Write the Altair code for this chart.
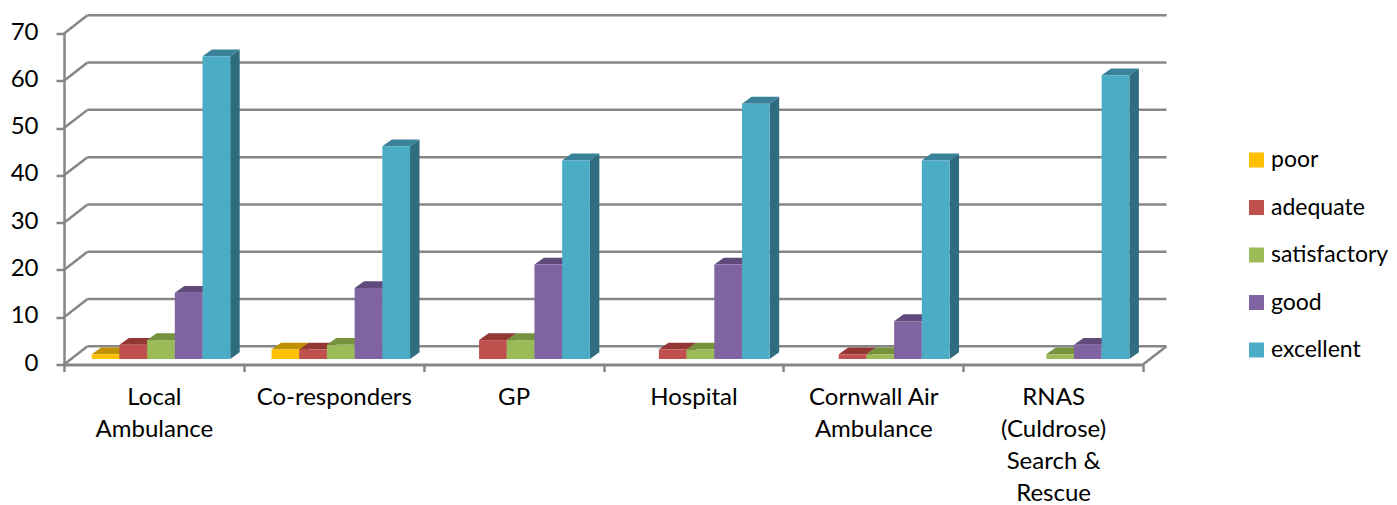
import altair as alt
import pandas as pd

categories = ["Local|Ambulance", "Co-responders", "GP", "Hospital", "Cornwall Air|Ambulance", "RNAS|(Culdrose)|Search &|Rescue"]
series = ["poor", "adequate", "satisfactory", "good", "excellent"]
poor = [1, 2, 0, 0, 0, 0]
adequate = [3, 2, 4, 2, 1, 0]
satisfactory = [4, 3, 4, 2, 1, 1]
good = [14, 15, 20, 20, 8, 3]
excellent = [64, 45, 42, 54, 42, 60]
values = [poor, adequate, satisfactory, good, excellent]
front_colors = ["#FFC000", "#C0504D", "#9BBB59", "#8064A2", "#4BACC6"]
top_colors = ["#BF9000", "#953735", "#76923C", "#604A7B", "#3A8299"]
side_colors = ["#A67D00", "#7D3432", "#657A3A", "#534169", "#2F6C7F"]
ticks = [0, 10, 20, 30, 40, 50, 60, 70]

FONT = "Lato"
GREY = "#868686"
W, H = 1079, 331
U = 4.7286  # px per value unit
CW = W / 6  # px per category

# projection constants in data units
wall_dx, wall_dy = 23.5 / CW, 18.2 / U
bar_lift = 5.5 / U
bar_start, bar_w = 27.7 / CW, 27.7 / CW
depth_dx, depth_dy = 9.5 / CW, 6.8 / U

y_axis_def = alt.Axis(
    orient="left", values=ticks, title=None, grid=False, domainColor=GREY, domainWidth=2.5,
    tickColor=GREY, tickWidth=2.5, tickSize=8, labelPadding=18,
    labelFont=FONT, labelFontSize=24, labelColor="#000000", labelOffset=-1.5,
)
xs = alt.Scale(domain=[0, 6], range=[0, W], nice=False, zero=False)
ys = alt.Scale(domain=[0, 70], range=[H, 0], nice=False, zero=False)
X = alt.X("x:Q", scale=xs, axis=None)
X2 = alt.X2("x2:Q")
Y = alt.Y("y:Q", scale=ys, axis=y_axis_def)
Y2 = alt.Y2("y2:Q")
color_enc = alt.Color(
    "series:N",
    scale=alt.Scale(domain=series, range=front_colors),
    legend=alt.Legend(
        title=None, orient="none", legendX=1181, legendY=115,
        symbolType="square", symbolSize=225, symbolStrokeWidth=0, symbolOpacity=1,
        labelFont=FONT, labelFontSize=23, labelColor="#000000",
        rowPadding=23.5, labelOffset=3, labelLimit=200,
    ),
)

x_axis = alt.Chart(pd.DataFrame({"cat": categories})).mark_point(opacity=0).encode(
    x=alt.X("cat:N", sort=categories, scale=alt.Scale(domain=categories, range=[0, W], paddingInner=0, paddingOuter=0),
            axis=alt.Axis(
                orient="bottom", title=None, grid=False, tickBand="extent", domainColor=GREY, domainWidth=3,
                tickColor=GREY, tickWidth=2.5, tickSize=7, labelAngle=0, labelAlign="center", labelBaseline="top",
                labelPadding=14, labelFont=FONT, labelFontSize=24, labelColor="#000000", labelLimit=300,
                labelLineHeight=32, labelExpr="split(datum.label, '|')",
            )),
)

# back wall gridlines
grid_df = pd.DataFrame({
    "x": [wall_dx] * len(ticks), "x2": [6 + wall_dx] * len(ticks),
    "y": [t + wall_dy for t in ticks],
})
grid = alt.Chart(grid_df).mark_rule(color=GREY, strokeWidth=2.5).encode(x=X, x2=X2, y=Y)

# side wall connectors and floor edge
conn = []
for t in ticks:
    conn.append({"k": f"t{t}", "x": 0, "y": t})
    conn.append({"k": f"t{t}", "x": wall_dx, "y": t + wall_dy})
conn.append({"k": "floor", "x": 6, "y": 0})
conn.append({"k": "floor", "x": 6 + wall_dx, "y": wall_dy})
connectors = alt.Chart(pd.DataFrame(conn)).mark_line(color=GREY, strokeWidth=2.5).encode(
    x=X, y=Y, detail="k:N"
)

layers = [grid, connectors, x_axis]
for c in range(len(categories)):
    for s, name in enumerate(series):
        v = values[s][c]
        if v <= 0:
            continue
        xl = c + bar_start + s * bar_w
        xr = xl + bar_w
        base = bar_lift
        tp = base + v
        side = pd.DataFrame({
            "x": [xr, xr + depth_dx],
            "y": [base, base + depth_dy],
            "y2": [tp, tp + depth_dy],
        })
        top = pd.DataFrame({
            "x": [xl, xl + depth_dx, xr, xr + depth_dx],
            "y": [tp, tp, tp, tp + depth_dy],
            "y2": [tp, tp + depth_dy, tp + depth_dy, tp + depth_dy],
        })
        front = pd.DataFrame({"series": [name], "x": [xl], "x2": [xr], "y": [base], "y2": [tp]})
        layers.append(alt.Chart(side).mark_area(color=side_colors[s], orient="vertical").encode(x=X, y=Y, y2=Y2))
        layers.append(alt.Chart(top).mark_area(color=top_colors[s], orient="vertical").encode(x=X, y=Y, y2=Y2))
        layers.append(alt.Chart(front).mark_bar(opacity=1).encode(x=X, x2=X2, y=Y, y2=Y2, color=color_enc))

chart = alt.layer(*layers).resolve_scale(x="independent").properties(
    width=W, height=H,
    autosize=alt.AutoSizeParams(type="none"),
    padding={"left": 56, "top": 25.5, "right": 246, "bottom": 140.5},
    background="white",
).configure_view(stroke=None)

chart.save("out.html", embed_options={"renderer": "svg", "actions": False})
